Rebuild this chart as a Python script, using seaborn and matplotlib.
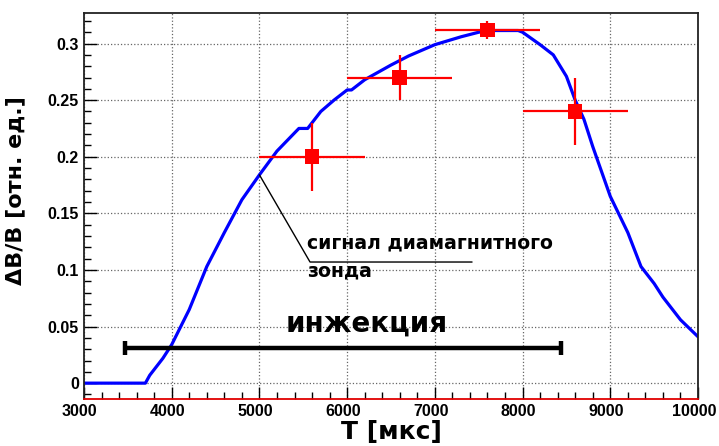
import numpy as np
import pandas as pd
import matplotlib
matplotlib.use("Agg")
import matplotlib.pyplot as plt
import seaborn as sns
from matplotlib.ticker import MultipleLocator
from matplotlib.transforms import ScaledTranslation

# === Data ===
# diamagnetic probe signal
curve_t = [3000, 3400, 3700, 3750, 3900, 4000, 4200, 4400, 4600, 4800, 5000,
           5200, 5400, 5450, 5550, 5700, 5850, 6000, 6050, 6200, 6500, 6700,
           7000, 7300, 7500, 7600, 7950, 8000, 8200, 8350, 8500, 8600, 8700,
           8800, 9000, 9200, 9350, 9500, 9600, 9800, 10000]
curve_v = [0, 0, 0, 0.007, 0.022, 0.034, 0.065, 0.103, 0.133, 0.162, 0.184,
           0.205, 0.221, 0.225, 0.225, 0.240, 0.250, 0.259, 0.259, 0.268, 0.281, 0.289,
           0.299, 0.306, 0.310, 0.3115, 0.3115, 0.310, 0.299, 0.290, 0.271, 0.250, 0.233,
           0.209, 0.165, 0.133, 0.103, 0.088, 0.076, 0.056, 0.041]

# measured points with errors
pt_t = [5600, 6600, 7600, 8600]
pt_v = [0.20, 0.27, 0.312, 0.24]
pt_terr = [600, 600, 600, 600]
pt_verr = [0.03, 0.02, 0.008, 0.03]

# injection interval
inj_start, inj_end, inj_level = 3470, 8440, 0.031

curve = pd.DataFrame({"T": curve_t, "dB": curve_v})
points = pd.DataFrame({"T": pt_t, "dB": pt_v})

# === Style ===
sns.set_style("white")
plt.rcParams["font.family"] = ["Liberation Sans", "DejaVu Sans"]
plt.rcParams["font.weight"] = "bold"
plt.rcParams["text.color"] = "black"
plt.rcParams["axes.labelcolor"] = "black"
WIDE = ["DejaVu Sans"]

fig = plt.figure(figsize=(7.19, 4.46), dpi=100)
ax = fig.add_axes([0.1168, 0.1054, 0.854, 0.8655])

# === Plot ===
sns.lineplot(data=curve, x="T", y="dB", color="#0000ff", lw=2.3, ax=ax)
ax.errorbar(pt_t, pt_v, xerr=pt_terr, yerr=pt_verr, fmt="none",
            ecolor="#ff0000", elinewidth=1.6, capsize=0, zorder=3)
sns.scatterplot(data=points, x="T", y="dB", marker="s", s=110, color="#ff0000",
                edgecolor="none", ax=ax, zorder=4)

# injection bar
ax.errorbar([(inj_start + inj_end) / 2], [inj_level], xerr=[(inj_end - inj_start) / 2],
            fmt="none", ecolor="black", elinewidth=3.2, capsize=5, capthick=3.2, zorder=3)
ax.text(6220, 0.053, "инжекция", fontsize=20, fontweight="bold", family=WIDE,
        color="black", ha="center", va="center")

# annotation for the probe signal
ax.plot([5000, 5577, 7424], [0.184, 0.107, 0.107], color="black", lw=1.0)
ax.text(5545, 0.124, "сигнал диамагнитного", fontsize=13.6, fontweight="bold",
        family=WIDE, color="black", ha="left", va="center")
ax.text(5545, 0.099, "зонда", fontsize=13.6, fontweight="bold", family=WIDE,
        color="black", ha="left", va="center")

# === Axes ===
ax.set_xlim(3000, 10000)
ax.set_ylim(-0.014, 0.327)
ax.xaxis.set_major_locator(MultipleLocator(1000))
ax.xaxis.set_minor_locator(MultipleLocator(200))
ax.yaxis.set_major_locator(MultipleLocator(0.05))
ax.yaxis.set_minor_locator(MultipleLocator(0.01))
ax.set_yticks([0, 0.05, 0.1, 0.15, 0.2, 0.25, 0.3])
ax.set_yticklabels(["0", "0.05", "0.1", "0.15", "0.2", "0.25", "0.3"])
ax.tick_params(which="both", direction="in", bottom=True, left=True,
               top=False, right=False, labelsize=11.5, colors="black")
ax.tick_params(which="major", length=9, width=1)
ax.tick_params(which="minor", length=5, width=1)
shift = ScaledTranslation(-3 / 72, 0, fig.dpi_scale_trans)
for lbl in ax.get_xticklabels():
    lbl.set_transform(lbl.get_transform() + shift)
for lbl in ax.get_xticklabels() + ax.get_yticklabels():
    lbl.set_fontweight("bold")
ax.grid(True, which="major", ls=":", color="#666666", lw=0.9)

for s in ax.spines.values():
    s.set_color("#222222")
    s.set_linewidth(1.3)
ax.spines["bottom"].set_color("#e00000")

ax.set_xlabel("T [мкс]", fontsize=18, fontweight="bold", family=WIDE, labelpad=1)
ax.set_ylabel("ΔB/B [отн. ед.]", fontsize=16, fontweight="bold", family=WIDE)
ax.yaxis.set_label_coords(-0.096, 0.54)

fig.savefig("out.png", dpi=100)
